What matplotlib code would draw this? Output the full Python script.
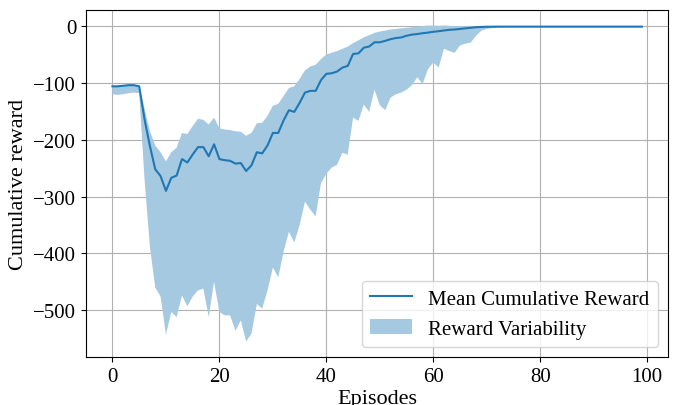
import matplotlib

matplotlib.use("Agg")
import matplotlib.pyplot as plt
import numpy as np

plt.rcParams["font.family"] = ["Liberation Serif", "DejaVu Serif"]

# Mean cumulative reward per episode
mean_reward = (
    [-106, -106, -105, -104, -104, -106]
    + [-164, -211, -252, -264, -290, -267, -263, -234, -240, -226, -213, -213, -229, -208]
    + [-234, -236, -237, -242, -241, -255, -245, -222, -224, -210,
       -188, -188, -166, -148, -151, -135, -117, -114, -114, -95]
    + [-84, -83, -80, -73, -70, -49, -48, -38, -36, -28.5, -28.5,
       -26, -23, -21, -20, -17, -15, -14, -12.5, -11.5, -10, -9]
    + [-7.8, -6.6, -6, -5, -4, -3, -2, -1.5]
    + [-1.2, -1.1] + [-1.0] * 28
)

# Upper / lower edge of the variability band
upper_reward = (
    [-105, -105, -104, -103, -103, -105]
    + [-145, -185, -210, -222, -238, -222, -214, -188, -190, -176, -163, -165, -173, -161]
    + [-180, -182, -183, -185, -186, -193, -188, -171, -170, -158,
       -140, -137, -123, -109, -106, -93, -78, -71, -68, -58]
    + [-50, -47, -44, -40, -36, -30, -25, -20, -16, -12, -9.5,
       -8, -6, -5, -4, -3, -2, -1, 0, 1, 1, 0.5]
    + [1, 0.5, 0, 0, -0.5, -0.5, -0.5, -0.5]
    + [-0.8] * 30
)

lower_reward = (
    [-120, -121, -120, -118, -117, -118]
    + [-270, -388, -460, -476, -543, -503, -512, -474, -493, -476, -465, -462, -512, -450]
    + [-503, -509, -509, -536, -518, -555, -541, -489, -497, -465,
       -425, -442, -397, -362, -381, -350, -309, -323, -335, -276]
    + [-260, -249, -244, -223, -226, -161, -167, -138, -151, -112, -139,
       -148, -126, -120, -117, -112, -104, -90, -102, -76, -64, -73]
    + [-40, -44, -47, -34, -31, -29, -17, -8]
    + [-5, -3.5, -2.5, -2] + [-1.5] * 6 + [-1.2] * 20
)

episodes = np.arange(len(mean_reward))

fig = plt.figure(figsize=(6.75, 4.06), dpi=100)
ax = fig.add_axes([0.1274, 0.1175, 0.8627, 0.8561])

ax.grid(True, color="#b0b0b0", linewidth=0.8)
ax.set_axisbelow(True)

ax.plot(episodes, mean_reward, color="#1f77b4", linewidth=1.5,
        label="Mean Cumulative Reward", zorder=3)
ax.fill_between(episodes, lower_reward, upper_reward, facecolor="#a5c9e1",
                edgecolor="none", label="Reward Variability", zorder=2)

ax.set_xlabel("Episodes", fontsize=16, labelpad=2)
ax.set_ylabel("Cumulative reward", fontsize=16)
ax.tick_params(labelsize=15)

ax.legend(loc="lower right", fontsize=15)

fig.savefig("out.png", dpi=100)
